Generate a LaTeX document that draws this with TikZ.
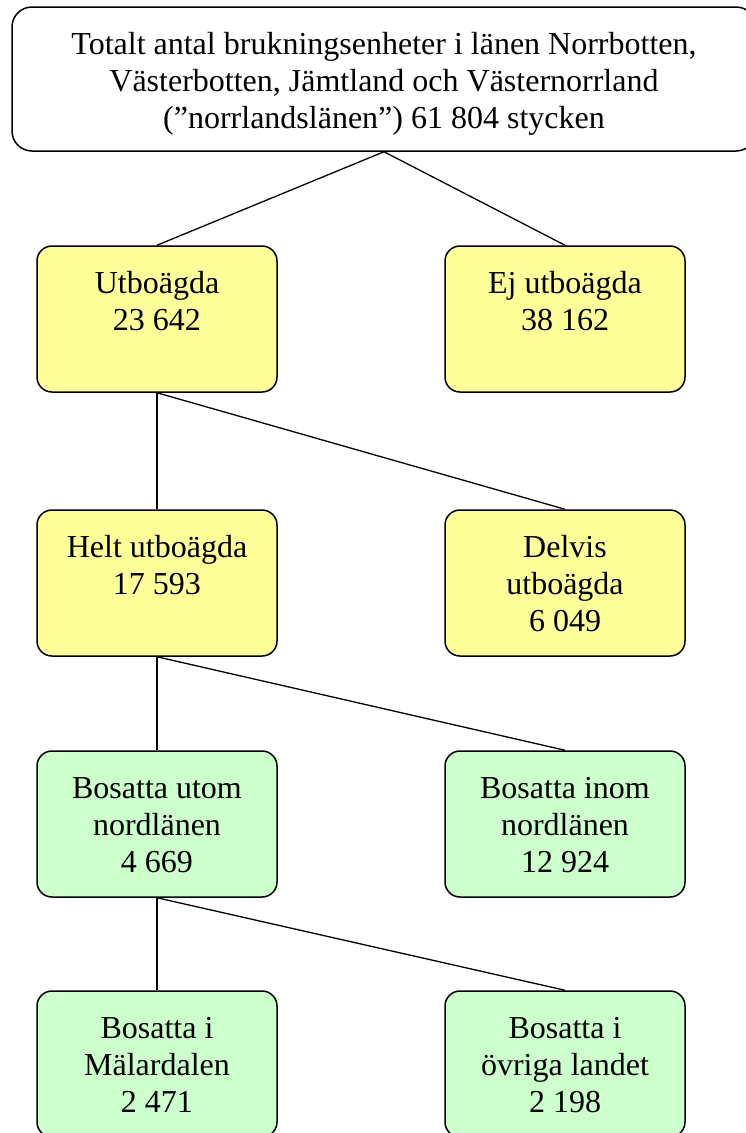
\documentclass[tikz,border=0pt]{standalone}
\usepackage{fontspec}
\setmainfont{Liberation Serif}
\definecolor{boxyellow}{HTML}{FFFF99}
\definecolor{boxgreen}{HTML}{CCFFCC}
% text block of a box, set from the top
\newcommand{\boxtext}[3]{\parbox[c][#2][t]{#1}{\centering\rule{0pt}{47pt}#3}}
\tikzset{
  fbox/.style={draw, rounded corners=15pt, inner sep=0pt, line width=1.5pt},
  link/.style={line width=1.3pt}
}
\begin{document}
\fontsize{32}{37}\selectfont
\begin{tikzpicture}[x=1pt,y=-1pt]
\useasboundingbox (0,0) rectangle (745,1133);
\node[fbox, rounded corners=20pt] (total) at (384,79)
  {\boxtext{744pt}{144pt}{Totalt antal brukningsenheter i länen Norrbotten,\\
   Västerbotten, Jämtland och Västernorrland\\(”norrlandslänen”) 61 804 stycken}};
% edit here for the boxes
\node[fbox, fill=boxyellow] (utb) at (157,319) {\boxtext{240pt}{146pt}{Utboägda\\23 642}};
\node[fbox, fill=boxyellow] (ejutb) at (565,319) {\boxtext{240pt}{146pt}{Ej utboägda\\38 162}};
\node[fbox, fill=boxyellow] (helt) at (157,583) {\boxtext{240pt}{146pt}{Helt utboägda\\17 593}};
\node[fbox, fill=boxyellow] (delvis) at (565,583) {\boxtext{240pt}{146pt}{Delvis\\utboägda\\6 049}};
\node[fbox, fill=boxgreen] (utom) at (157,824) {\boxtext{240pt}{146pt}{Bosatta utom\\nordlänen\\4 669}};
\node[fbox, fill=boxgreen] (inom) at (565,824) {\boxtext{240pt}{146pt}{Bosatta inom\\nordlänen\\12 924}};
\node[fbox, fill=boxgreen] (malar) at (157,1064) {\boxtext{240pt}{146pt}{Bosatta i\\Mälardalen\\2 471}};
\node[fbox, fill=boxgreen] (ovriga) at (565,1064) {\boxtext{240pt}{146pt}{Bosatta i\\övriga landet\\2 198}};
% edit here for the lines
\foreach \a/\b in {total/utb, total/ejutb, utb/helt, utb/delvis, helt/utom, helt/inom, utom/malar, utom/ovriga}
\draw[link] (\a.south) -- (\b.north);
\end{tikzpicture}
\end{document}
